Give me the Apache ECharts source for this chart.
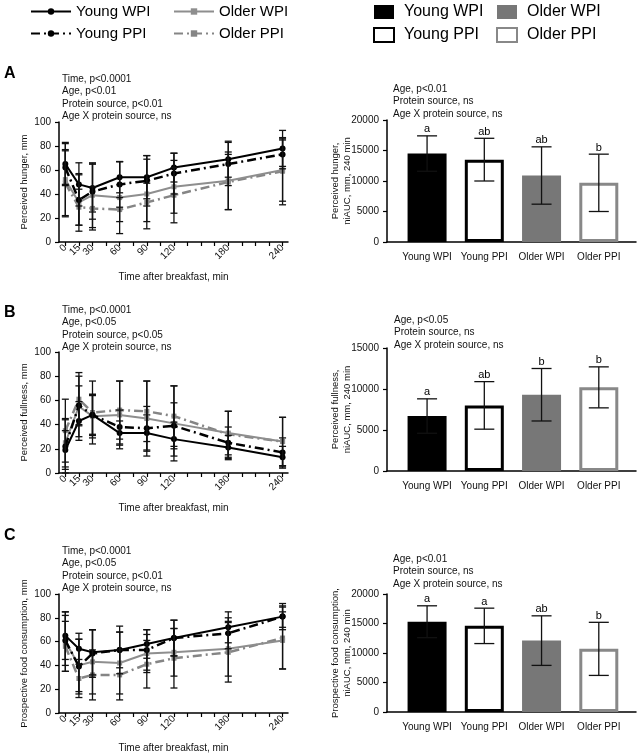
<!DOCTYPE html>
<html>
<head>
<meta charset="utf-8">
<script src="https://cdn.jsdelivr.net/npm/echarts@6/dist/echarts.min.js"></script>
<style>
html, body { margin: 0; padding: 0; background: #fff; }
#chart { width: 640px; height: 756px; }
</style>
</head>
<body>
<div id="chart"></div>
<script>
// groups, same order everywhere
const groups = ['Young WPI', 'Young PPI', 'Older WPI', 'Older PPI'];
const times = [0, 15, 30, 60, 90, 120, 180, 240];
const timeTicks = [0, 15, 30, 45, 60, 75, 90, 105, 120, 135, 150, 165, 180, 195, 210, 225, 240];

// A - hunger (mm)
const hungerMean = [
    [65, 48, 45, 54, 54, 62, 69, 78],
    [62, 35, 42, 48, 51, 57, 65, 73],
    [52, 33, 39, 37, 40, 46, 51, 60],
    [49, 29, 28, 27, 33, 39, 50, 59]
];
const hungerSD = [
    [18, 18, 20, 13, 18, 12, 15, 15],
    [14, 21, 23, 19, 21, 17, 18, 12],
    [30, 24, 27, 30, 29, 22, 24, 26],
    [28, 15, 18, 10, 16, 23, 23, 28]
];
// B - fullness (mm)
const fullMean = [
    [19, 43, 48, 33, 33, 28, 21, 13],
    [22, 56, 48, 38, 37, 39, 25, 17],
    [25, 55, 47, 48, 45, 41, 33, 26],
    [35, 61, 50, 52, 51, 47, 32, 26]
];
const fullSD = [
    [16, 16, 17, 10, 15, 14, 10, 9],
    [22, 16, 16, 14, 18, 19, 13, 12],
    [20, 25, 18, 28, 31, 31, 18, 20],
    [26, 22, 26, 24, 25, 25, 19, 20]
];
// C - prospective food consumption (mm)
const pfcMean = [
    [65, 54, 51, 53, 58, 63, 72, 81],
    [61, 39, 50, 53, 53, 63, 67, 81],
    [60, 40, 43, 42, 50, 51, 54, 61],
    [56, 29, 32, 32, 41, 46, 51, 63]
];
const pfcSD = [
    [20, 13, 19, 20, 12, 15, 13, 11],
    [21, 23, 20, 15, 17, 15, 13, 9],
    [25, 22, 27, 26, 16, 20, 23, 24],
    [21, 16, 21, 21, 20, 25, 25, 26]
];

// niAUC bars
const hungerAUC = [14500, 13500, 10900, 9700];
const hungerAUCsd = [2900, 3500, 4700, 4700];
const hungerLetters = ['a', 'ab', 'ab', 'b'];
const fullAUC = [6700, 8000, 9300, 10200];
const fullAUCsd = [2100, 2900, 3200, 2500];
const fullLetters = ['a', 'ab', 'b', 'b'];
const pfcAUC = [15300, 14600, 12100, 10700];
const pfcAUCsd = [2700, 3000, 4200, 4500];
const pfcLetters = ['a', 'a', 'ab', 'b'];

const statsLine = {
    A: ['Time, p<0.0001', 'Age, p<0.01', 'Protein source, p<0.01', 'Age X protein source, ns'],
    B: ['Time, p<0.0001', 'Age, p<0.05', 'Protein source, p<0.05', 'Age X protein source, ns'],
    C: ['Time, p<0.0001', 'Age, p<0.05', 'Protein source, p<0.01', 'Age X protein source, ns']
};
const statsBar = {
    A: ['Age, p<0.01', 'Protein source, ns', 'Age X protein source, ns'],
    B: ['Age, p<0.05', 'Protein source, ns', 'Age X protein source, ns'],
    C: ['Age, p<0.01', 'Protein source, ns', 'Age X protein source, ns']
};

const FONT = 'Liberation Sans, Arial, sans-serif';
const EPS = 1e-6; // 0 itself gets dropped from customValues, nudge it

const lineLook = [
    { color: '#000', lineStyle: { width: 2, type: 'solid' }, symbol: 'circle', symbolSize: 6 },
    { color: '#000', lineStyle: { width: 2.5, type: [9, 4, 2, 4] }, symbol: 'circle', symbolSize: 6 },
    { color: '#8e8e8e', lineStyle: { width: 2, type: 'solid' }, symbol: 'rect', symbolSize: 5 },
    { color: '#858585', lineStyle: { width: 2.5, type: [9, 4, 2, 4] }, symbol: 'rect', symbolSize: 5 }
];
const barLook = [
    { color: '#000' },
    { color: '#fff', borderColor: '#000', borderWidth: 3 },
    { color: '#777' },
    { color: '#fff', borderColor: '#888', borderWidth: 3 }
];

// grids: line panels on the left, bar panels on the right
const lineGrids = [
    { left: 59, width: 229, top: 122, height: 120 },
    { left: 59, width: 229, top: 352, height: 121 },
    { left: 59, width: 229, top: 594, height: 119 }
];
const barGrids = [
    { left: 387, width: 249, top: 120, height: 122 },
    { left: 387, width: 249, top: 348, height: 123 },
    { left: 387, width: 249, top: 594, height: 118 }
];

function errRender(halfCap, letters) {
    return function(params, api) {
        var x = api.value(0), m = api.value(1), s = api.value(2);
        var hi = api.coord([x, m + s]);
        var lo = api.coord([x, m - s]);
        var st = { stroke: '#111', lineWidth: 1.3 };
        var kids = [
            { type: 'line', shape: { x1: hi[0], y1: hi[1], x2: lo[0], y2: lo[1] }, style: st },
            { type: 'line', shape: { x1: hi[0] - halfCap, y1: hi[1], x2: hi[0] + halfCap, y2: hi[1] }, style: st },
            { type: 'line', shape: { x1: lo[0] - halfCap, y1: lo[1], x2: lo[0] + halfCap, y2: lo[1] }, style: st }
        ];
        if (letters) {
            kids.push({
                type: 'text',
                style: {
                    text: letters[params.dataIndex], x: hi[0], y: hi[1] - 1,
                    textAlign: 'center', textVerticalAlign: 'bottom',
                    fontSize: 11, fontFamily: FONT, fill: '#000'
                }
            });
        }
        return { type: 'group', children: kids };
    };
}

const lineMeans = [hungerMean, fullMean, pfcMean];
const lineSDs = [hungerSD, fullSD, pfcSD];
const lineNames = ['Perceived hunger, mm', 'Perceived fullness, mm', 'Prospective food consumption, mm'];
const barVals = [hungerAUC, fullAUC, pfcAUC];
const barSDs = [hungerAUCsd, fullAUCsd, pfcAUCsd];
const barLetters = [hungerLetters, fullLetters, pfcLetters];
const barNames = ['Perceived hunger,\nniAUC, mm, 240 min', 'Perceived fullness,\nniAUC, mm, 240 min', 'Prospective food consumption,\nniAUC, mm, 240 min'];
const barMax = [20000, 15000, 20000];

// rotated time labels sit close together and the axis drops the first one when
// neighbours touch, so they are split over two overlaid axes (every other label)
const timeLabelsA = times.filter(function(t, i) { return i % 2 === 1; });
const timeLabelsB = times.filter(function(t, i) { return i % 2 === 0; }).map(function(t) { return t || EPS; });

var grids = [], xAxes = [], yAxes = [], series = [];
var extraAxes = [];
var axisLine = { show: true, onZero: false, lineStyle: { color: '#000', width: 1.5 } };
var tickStyle = { color: '#000', width: 1.2 };
var labelText = { color: '#111', fontSize: 10, fontFamily: FONT };
var xNameText = { color: '#111', fontSize: 10, fontFamily: FONT };
var yNameText = { color: '#111', fontSize: 9.5, fontFamily: FONT };
function timeLabel(v) { return String(Math.round(v)); }

for (var p = 0; p < 3; p++) {
    // line panel
    var gi = grids.length;
    grids.push(lineGrids[p]);
    xAxes.push({
        gridIndex: gi, type: 'value', min: -7, max: 246, position: 'bottom',
        name: 'Time after breakfast, min', nameLocation: 'middle', nameGap: 30, nameMoveOverlap: false,
        nameTextStyle: xNameText,
        axisLine: axisLine, splitLine: { show: false },
        axisTick: { show: true, length: 4, customValues: [EPS].concat(timeTicks.slice(1)), lineStyle: tickStyle },
        axisLabel: Object.assign({ rotate: 45, margin: 4, hideOverlap: false, showMinLabel: true, showMaxLabel: true,
                     customValues: timeLabelsA, formatter: timeLabel }, labelText)
    });
    extraAxes.push({
        gridIndex: gi, type: 'value', min: -7, max: 246, position: 'bottom', offset: 0,
        axisLine: { show: false }, axisTick: { show: false }, splitLine: { show: false },
        axisLabel: Object.assign({ rotate: 45, margin: 4, hideOverlap: false, showMinLabel: true, showMaxLabel: true,
                     customValues: timeLabelsB, formatter: timeLabel }, labelText)
    });
    yAxes.push({
        gridIndex: gi, type: 'value', min: 0, max: 100, interval: 20,
        name: lineNames[p], nameLocation: 'middle', nameGap: 30, nameMoveOverlap: false,
        nameTextStyle: yNameText,
        axisLine: axisLine, splitLine: { show: false },
        axisTick: { show: true, length: 4, lineStyle: tickStyle },
        axisLabel: Object.assign({}, labelText)
    });
    var errData = [];
    for (var g = 0; g < 4; g++) {
        series.push({
            type: 'line', name: groups[g], xAxisIndex: gi, yAxisIndex: gi,
            data: times.map(function(t, i) { return [t, lineMeans[p][g][i]]; }),
            color: lineLook[g].color,
            itemStyle: { color: lineLook[g].color },
            lineStyle: lineLook[g].lineStyle,
            symbol: lineLook[g].symbol,
            symbolSize: lineLook[g].symbolSize,
            z: 4 - g
        });
        times.forEach(function(t, i) {
            errData.push([t, lineMeans[p][g][i], lineSDs[p][g][i]]);
        });
    }
    series.push({
        type: 'custom', xAxisIndex: gi, yAxisIndex: gi, silent: true, z: 5,
        renderItem: errRender(3.5), data: errData
    });

    // bar panel
    var bi = grids.length;
    grids.push(barGrids[p]);
    xAxes.push({
        gridIndex: bi, type: 'value', min: -0.7, max: 3.65,
        axisLine: axisLine, splitLine: { show: false },
        axisTick: { show: false },
        axisLabel: Object.assign({
            margin: 10, hideOverlap: false,
            customValues: [EPS, 1, 2, 3],
            formatter: function(v) { return groups[Math.round(v)]; }
        }, labelText)
    });
    yAxes.push({
        gridIndex: bi, type: 'value', min: 0, max: barMax[p], interval: 5000,
        name: barNames[p], nameLocation: 'middle', nameGap: 34, nameMoveOverlap: false,
        nameTextStyle: Object.assign({ lineHeight: 11.5 }, yNameText),
        axisLine: axisLine, splitLine: { show: false },
        axisTick: { show: true, length: 4, lineStyle: tickStyle },
        axisLabel: Object.assign({ formatter: function(v) { return String(v); } }, labelText)
    });
    for (var g2 = 0; g2 < 4; g2++) {
        series.push({
            type: 'bar', name: 'bar:' + groups[g2], xAxisIndex: bi, yAxisIndex: bi,
            data: [[g2, barVals[p][g2]]], barWidth: 39, barGap: '-100%',
            itemStyle: barLook[g2]
        });
    }
    series.push({
        type: 'custom', xAxisIndex: bi, yAxisIndex: bi, silent: true, z: 5,
        renderItem: errRender(10, barLetters[p]),
        data: groups.map(function(n, i) { return [i, barVals[p][i], barSDs[p][i]]; })
    });
}
xAxes = xAxes.concat(extraAxes);

function statsText(x, y, lines) {
    return {
        type: 'text', left: x, top: y,
        style: { text: lines.join('\n'), fontSize: 10, lineHeight: 12.3, fontFamily: FONT, fill: '#111' }
    };
}
function panelLetter(x, y, t) {
    return {
        type: 'text', left: x, top: y,
        style: { text: t, fontSize: 16, fontWeight: 'bold', fontFamily: FONT, fill: '#000' }
    };
}

var legendText = { color: '#000', fontFamily: FONT };
function barLegendName(n) { return n.replace('bar:', ''); }

var option = {
    animation: false,
    backgroundColor: '#fff',
    grid: grids,
    xAxis: xAxes,
    yAxis: yAxes,
    legend: [
        { data: groups.slice(0, 2), orient: 'vertical', left: 30, top: 4, padding: 0, itemWidth: 40, itemHeight: 8, itemGap: 7,
          selectedMode: false, textStyle: Object.assign({ fontSize: 15 }, legendText) },
        { data: groups.slice(2), orient: 'vertical', left: 173, top: 4, padding: 0, itemWidth: 40, itemHeight: 8, itemGap: 7,
          selectedMode: false, textStyle: Object.assign({ fontSize: 15 }, legendText) },
        { data: ['bar:Young WPI', 'bar:Young PPI'], orient: 'vertical', left: 373, top: 4, padding: 0, itemWidth: 20, itemHeight: 14, itemGap: 7,
          icon: 'rect', selectedMode: false, formatter: barLegendName,
          textStyle: Object.assign({ fontSize: 16, padding: [0, 0, 0, 5] }, legendText) },
        { data: ['bar:Older WPI', 'bar:Older PPI'], orient: 'vertical', left: 496, top: 4, padding: 0, itemWidth: 20, itemHeight: 14, itemGap: 7,
          icon: 'rect', selectedMode: false, formatter: barLegendName,
          textStyle: Object.assign({ fontSize: 16, padding: [0, 0, 0, 5] }, legendText) }
    ],
    graphic: [
        panelLetter(4, 66, 'A'),
        panelLetter(4, 305, 'B'),
        panelLetter(4, 528, 'C'),
        statsText(62, 73, statsLine.A),
        statsText(393, 83, statsBar.A),
        statsText(62, 304, statsLine.B),
        statsText(394, 314, statsBar.B),
        statsText(62, 545, statsLine.C),
        statsText(393, 553, statsBar.C)
    ],
    series: series
};

var chart = echarts.init(document.getElementById('chart'));
chart.setOption(option);
</script>
</body>
</html>
